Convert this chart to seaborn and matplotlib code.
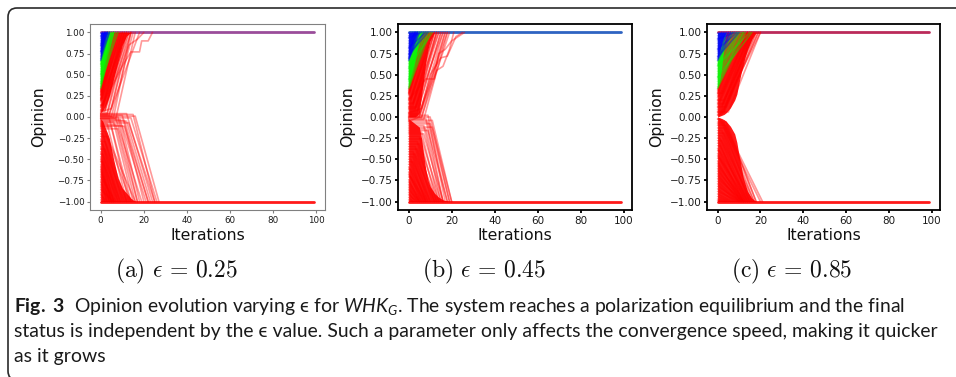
import matplotlib
matplotlib.use("Agg")
import pandas as pd
import matplotlib.pyplot as plt
import seaborn as sns
from matplotlib import font_manager
from matplotlib.patches import FancyBboxPatch

# ---- data ---------------------------------------------------------------
last_iteration = 99
opinion_ticks = [-1.0, -0.75, -0.5, -0.25, 0.0, 0.25, 0.5, 0.75, 1.0]
iteration_ticks = [0, 20, 40, 60, 80, 100]
panel_labels = ["(a)", "(b)", "(c)"]
epsilons = ["0.25", "0.45", "0.85"]

# (a) eps = 0.25 -- individual agents (start opinion, iteration it starts moving, iteration it settles)
a_blue_start = [0.99, 0.96, 0.93, 0.90, 0.87, 0.84, 0.81, 0.78, 0.75, 0.72, 0.69, 0.67, 0.95, 0.85, 0.77]
a_blue_arrive = [1, 1, 2, 2, 2, 3, 2, 3, 3, 4, 3, 4, 1, 2, 3]
a_green_start = [0.66, 0.63, 0.60, 0.57, 0.54, 0.51, 0.48, 0.45, 0.42, 0.39, 0.36, 0.34, 0.62, 0.50, 0.40]
a_green_arrive = [3, 3, 4, 4, 5, 4, 5, 6, 5, 6, 7, 6, 4, 6, 8]
a_up_start = [0.33, 0.31, 0.29, 0.27, 0.25, 0.23, 0.21, 0.19, 0.17, 0.15, 0.13, 0.11, 0.09, 0.07,
              0.05, 0.03, 0.02, 0.01, 0.00, -0.02, 0.30, 0.26, 0.20, 0.14, 0.08, 0.04, 0.22]
a_up_leave = [0, 0, 0, 0, 0, 0, 0, 0, 0, 1, 1, 1, 2, 2, 3, 3, 4, 5, 6, 7, 0, 0, 0, 1, 2, 4, 1]
a_up_arrive = [5, 6, 6, 7, 7, 8, 8, 9, 9, 10, 10, 11, 11, 12, 12, 13, 14, 15, 14, 16, 8, 10, 12, 13, 14, 18, 11]
a_down_start = [0.04, 0.02, 0.00, -0.01, -0.03, -0.04, -0.06, -0.07, -0.09, -0.10, -0.12, -0.14, 0.01, -0.02,
                -0.05, -0.08, 0.03, -0.015, -0.11, -0.17, -0.20, -0.23, -0.26, -0.29, -0.32, -0.35, -0.38,
                -0.41, -0.44, -0.47, -0.50, -0.53, -0.56, -0.59, -0.62, -0.65, -0.68, -0.71, -0.74, -0.77,
                -0.80, -0.83, -0.86, -0.89, -0.92, -0.95, -0.98]
a_down_leave = [12, 10, 8, 14, 9, 11, 6, 13, 7, 10, 5, 8, 16, 4, 12, 3, 15, 7, 11, 2, 1, 3, 0, 2, 1, 0,
                2, 0, 1, 0, 0, 1, 0, 0, 0, 0, 0, 0, 0, 0, 0, 0, 0, 0, 0, 0, 0]
a_down_arrive = [24, 20, 17, 26, 18, 22, 15, 25, 16, 21, 13, 17, 27, 14, 23, 12, 25, 19, 22, 14, 10, 16,
                 8, 12, 9, 7, 11, 6, 9, 6, 5, 8, 5, 4, 5, 6, 4, 7, 3, 5, 4, 3, 6, 2, 3, 2, 1]
a_extra = [[(0, 0.12), (6, 0.40), (10, 0.60), (14, 0.77), (18, 0.77), (19, 0.90), (22, 0.90), (24, 1.0)],
           [(0, 0.06), (5, 0.10), (9, 0.55), (13, 0.85), (17, 0.92), (20, 1.0)]]
# (a) edges of the saturated bundles
a_core_x = [0, 1, 2, 3, 4, 5, 6, 8, 10, 12, 14, 16]
a_blue_edge = [0.67, 0.80, 0.92, 0.98, 1.0, 1.0, 1.0, 1.0, 1.0, 1.0, 1.0, 1.0]
a_green_edge = [0.33, 0.45, 0.60, 0.75, 0.88, 0.95, 1.0, 1.0, 1.0, 1.0, 1.0, 1.0]
a_up_edge = [0.05, 0.08, 0.12, 0.18, 0.25, 0.35, 0.45, 0.65, 0.85, 0.96, 1.0, 1.0]
a_down_edge = [-0.02, -0.05, -0.12, -0.18, -0.25, -0.38, -0.50, -0.72, -0.84, -0.90, -0.96, -1.0]

# (b) eps = 0.45
b_blue_start = [0.99, 0.96, 0.93, 0.90, 0.87, 0.84, 0.81, 0.78, 0.75, 0.72, 0.69, 0.67, 0.94, 0.82, 0.74, 0.70]
b_blue_arrive = [1, 2, 2, 3, 3, 3, 4, 4, 3, 4, 5, 4, 6, 8, 9, 7]
b_green_start = [0.66, 0.63, 0.60, 0.57, 0.54, 0.51, 0.48, 0.45, 0.42, 0.39, 0.36, 0.34, 0.58, 0.44]
b_green_arrive = [4, 5, 5, 6, 6, 7, 7, 8, 8, 9, 9, 10, 11, 6]
b_up_start = [0.33, 0.31, 0.29, 0.27, 0.25, 0.23, 0.21, 0.19, 0.17, 0.15, 0.13, 0.11, 0.09, 0.07,
              0.05, 0.03, 0.01, -0.01, -0.03, 0.28, 0.22, 0.16, 0.10, 0.04, 0.00, 0.12]
b_up_leave = [0, 0, 0, 0, 0, 1, 1, 1, 2, 2, 2, 3, 3, 4, 4, 5, 5, 6, 7, 0, 1, 2, 3, 5, 6, 4]
b_up_arrive = [7, 8, 8, 9, 9, 10, 11, 11, 12, 12, 13, 13, 14, 15, 15, 16, 17, 17, 18, 10, 12, 14, 16, 18, 19, 13]
b_down_start = [0.02, 0.00, -0.02, -0.04, -0.06, -0.08, -0.10, -0.12, -0.14, -0.16, -0.18, -0.20, -0.23,
                -0.26, -0.29, -0.32, -0.35, -0.38, -0.41, -0.44, -0.47, -0.50, -0.53, -0.56, -0.59, -0.62,
                -0.65, -0.68, -0.71, -0.74, -0.77, -0.80, -0.83, -0.86, -0.89, -0.92, -0.95, -0.98]
b_down_leave = [9, 10, 8, 11, 9, 10, 7, 11, 8, 9, 6, 7, 5, 6, 4, 5, 3, 4, 2, 3, 2, 1, 2, 1, 0, 1, 0, 0,
                1, 0, 0, 0, 0, 0, 0, 0, 0, 0]
b_down_arrive = [17, 19, 16, 20, 18, 19, 15, 20, 16, 18, 14, 16, 13, 15, 12, 14, 11, 13, 10, 12, 9, 8, 10,
                 8, 7, 9, 6, 7, 8, 5, 6, 5, 4, 5, 3, 4, 2, 2]
b_extra = [[(0, 0.20), (8, 0.45), (12, 0.45), (14, 0.75), (17, 0.80), (20, 0.90), (23, 0.95), (26, 1.0)],
           [(0, 0.05), (6, 0.10), (10, 0.50), (15, 0.70), (18, 0.72), (22, 0.95), (25, 1.0)],
           [(0, -0.05), (5, 0.0), (9, 0.30), (13, 0.55), (16, 0.60), (19, 0.80), (21, 1.0)]]
b_core_x = [0, 1, 2, 3, 4, 5, 6, 7, 8, 9, 10, 12, 14, 16, 19]
b_blue_edge = [0.67, 0.73, 0.80, 0.87, 0.94, 1.0, 1.0, 1.0, 1.0, 1.0, 1.0, 1.0, 1.0, 1.0, 1.0]
b_green_edge = [0.33, 0.38, 0.50, 0.65, 0.80, 0.92, 0.97, 1.0, 1.0, 1.0, 1.0, 1.0, 1.0, 1.0, 1.0]
b_up_edge = [0.0, 0.0, 0.0, 0.0, 0.02, 0.05, 0.25, 0.45, 0.65, 0.80, 0.90, 1.0, 1.0, 1.0, 1.0]
b_down_edge = [-0.02, -0.04, -0.06, -0.08, -0.10, -0.12, -0.25, -0.45, -0.62, -0.75, -0.82, -0.90, -0.95,
               -0.98, -1.0]

# (c) eps = 0.85
c_blue_start = [0.99, 0.96, 0.93, 0.90, 0.87, 0.84, 0.81, 0.78, 0.75, 0.72, 0.69, 0.67, 0.92, 0.80, 0.71]
c_blue_arrive = [1, 2, 2, 3, 3, 4, 4, 5, 5, 6, 6, 7, 8, 9, 10]
c_green_start = [0.66, 0.63, 0.60, 0.57, 0.54, 0.51, 0.48, 0.45, 0.42, 0.39, 0.36, 0.34, 0.61, 0.47]
c_green_arrive = [6, 7, 7, 8, 9, 9, 10, 10, 11, 12, 12, 13, 15, 16]
c_up_start = [0.33, 0.31, 0.29, 0.27, 0.25, 0.23, 0.21, 0.19, 0.17, 0.15, 0.13, 0.11, 0.09, 0.07,
              0.05, 0.03, 0.02, 0.28, 0.20, 0.12, 0.06, 0.16]
c_up_leave = [0, 0, 0, 0, 1, 0, 1, 1, 1, 2, 2, 2, 3, 3, 3, 2, 1, 2, 3, 4, 5, 3]
c_up_arrive = [12, 13, 12, 14, 14, 15, 14, 15, 16, 16, 17, 15, 16, 17, 18, 19, 20, 16, 18, 19, 20, 17]
c_down_start = [-0.02, -0.03, -0.06, -0.08, -0.10, -0.13, -0.16, -0.19, -0.22, -0.25, -0.28, -0.31, -0.34,
                -0.37, -0.40, -0.43, -0.46, -0.49, -0.52, -0.55, -0.58, -0.61, -0.64, -0.67, -0.70, -0.73,
                -0.76, -0.79, -0.82, -0.85, -0.88, -0.91, -0.94, -0.97, -0.99]
c_down_leave = [1, 2, 4, 3, 4, 3, 2, 3, 2, 1, 2, 1, 1, 0, 1, 0, 0, 1, 0, 0, 0, 0, 0, 0, 0, 0, 0, 0, 0,
                0, 0, 0, 0, 0, 0]
c_down_arrive = [20, 21, 18, 17, 18, 16, 15, 17, 15, 14, 16, 13, 14, 12, 15, 13, 12, 14, 11, 12, 13, 11,
                 12, 10, 11, 12, 10, 9, 11, 8, 10, 7, 6, 5, 4]
c_extra = []
c_core_x = [0, 1, 2, 3, 4, 6, 8, 9, 10, 11, 12, 13, 14, 16, 18]
c_blue_edge = [0.67, 0.78, 0.88, 0.95, 1.0, 1.0, 1.0, 1.0, 1.0, 1.0, 1.0, 1.0, 1.0, 1.0, 1.0]
c_green_edge = [0.33, 0.42, 0.60, 0.85, 1.0, 1.0, 1.0, 1.0, 1.0, 1.0, 1.0, 1.0, 1.0, 1.0, 1.0]
c_up_edge = [0.0, 0.01, 0.02, 0.03, 0.05, 0.11, 0.20, 0.27, 0.40, 0.52, 0.62, 0.72, 0.80, 0.92, 1.0]
c_down_edge = [0.0, -0.01, -0.02, -0.03, -0.05, -0.11, -0.20, -0.30, -0.45, -0.58, -0.72, -0.80, -0.88,
               -0.96, -1.0]

# ---- styling --------------------------------------------------------------
palette = {"low": "#ff0000", "mid": "#00ff00", "high": "#0000ff"}
top_colors = ["#9a4d9a", "#2e63c2", "#bb2a5a"]
spine_colors = ["#808080", "black", "black"]
spine_widths = [0.8, 1.3, 1.3]
tick_sizes = [6.3, 7.5, 7.5]
axes_rects = [[90 / 956, 167 / 377, 235 / 956, 186 / 377],
              [398 / 956, 167 / 377, 234 / 956, 186 / 377],
              [707 / 956, 167 / 377, 233 / 956, 186 / 377]]
sub_x = [176 / 956, 484 / 956, 792 / 956]

sns.set_theme(style="ticks")
avail = {f.name for f in font_manager.fontManager.ttflist}
cap_font = "Lato" if "Lato" in avail else "DejaVu Sans"
plt.rcParams["font.family"] = ["DejaVu Sans"]
plt.rcParams["mathtext.rm"] = cap_font
plt.rcParams["mathtext.it"] = cap_font + ":italic"
plt.rcParams["mathtext.bf"] = cap_font + ":bold"


def build(blue_s, blue_a, green_s, green_a, up_s, up_l, up_a, dn_s, dn_l, dn_a, extra):
    rows = []

    def add(tag, group, starts, arrives, target, leaves=None):
        for i, s in enumerate(starts):
            hold = 0 if leaves is None else leaves[i]
            for it, op in [(0, s), (hold, s), (arrives[i], target)]:
                rows.append({"agent": f"{tag}{i}", "group": group, "iteration": it, "opinion": op})

    add("dn", "low", dn_s, dn_a, -1.0, dn_l)
    add("up", "low", up_s, up_a, 1.0, up_l)
    for k, path in enumerate(extra):
        for it, op in path:
            rows.append({"agent": f"ex{k}", "group": "low", "iteration": it, "opinion": op})
    add("g", "mid", green_s, green_a, 1.0)
    add("b", "high", blue_s, blue_a, 1.0)
    return pd.DataFrame(rows)


panels = [
    build(a_blue_start, a_blue_arrive, a_green_start, a_green_arrive, a_up_start, a_up_leave, a_up_arrive,
          a_down_start, a_down_leave, a_down_arrive, a_extra),
    build(b_blue_start, b_blue_arrive, b_green_start, b_green_arrive, b_up_start, b_up_leave, b_up_arrive,
          b_down_start, b_down_leave, b_down_arrive, b_extra),
    build(c_blue_start, c_blue_arrive, c_green_start, c_green_arrive, c_up_start, c_up_leave, c_up_arrive,
          c_down_start, c_down_leave, c_down_arrive, c_extra),
]
cores = [
    (a_core_x, a_blue_edge, a_green_edge, a_up_edge, a_down_edge),
    (b_core_x, b_blue_edge, b_green_edge, b_up_edge, b_down_edge),
    (c_core_x, c_blue_edge, c_green_edge, c_up_edge, c_down_edge),
]

fig = plt.figure(figsize=(9.56, 3.77), dpi=100)

for k, df in enumerate(panels):
    ax = fig.add_axes(axes_rects[k])
    # consensus levels underneath the individual agents
    ax.plot([0, last_iteration], [1.0, 1.0], color=top_colors[k], lw=2.0, zorder=1)
    ax.plot([0, last_iteration], [-1.0, -1.0], color="#ff1a1a", lw=2.0, zorder=1)
    # saturated bundles where the trajectories overlap completely
    cx, e_blue, e_green, e_up, e_down = cores[k]
    ax.fill_between(cx, -1.0, e_down, color="#ff0000", alpha=0.9, lw=0, zorder=1.5)
    ax.fill_between(cx, e_up, 1.0, color="#ff0000", alpha=0.9, lw=0, zorder=1.5)
    ax.fill_between(cx, e_green, 1.0, color="#22ee22", alpha=0.95, lw=0, zorder=1.6)
    ax.fill_between(cx, e_blue, 1.0, color="#1010ff", alpha=0.95, lw=0, zorder=1.7)
    sns.lineplot(data=df, x="iteration", y="opinion", hue="group", units="agent", estimator=None,
                 hue_order=["low", "mid", "high"], palette=palette, sort=False, lw=1.2, alpha=0.4,
                 legend=False, ax=ax, zorder=2)
    ax.set_xlim(-0.05 * last_iteration, 1.05 * last_iteration)
    ax.set_ylim(-1.1, 1.1)
    ax.set_xticks(iteration_ticks)
    ax.set_yticks(opinion_ticks)
    ax.set_yticklabels([f"{v:.2f}".replace("-", "\u2212") for v in opinion_ticks])
    ax.tick_params(length=2.5, pad=1.5, labelsize=tick_sizes[k], color=spine_colors[k],
                   width=spine_widths[k], labelcolor="#1a1a1a")
    for sp in ax.spines.values():
        sp.set_visible(True)
        sp.set_color(spine_colors[k])
        sp.set_linewidth(spine_widths[k])
        sp.set_zorder(3)
    ax.set_xlabel("Iterations", fontsize=11.3, color="#111111")
    ax.set_ylabel("Opinion", fontsize=11.3, color="#111111")
    ax.xaxis.set_label_coords(0.5, -0.095)
    ax.yaxis.set_label_coords(-0.185, 0.5)
    fig.text(sub_x[k], 1 - 271 / 377,
             r"$\mathrm{" + panel_labels[k] + r"}\ \epsilon\,=\," + epsilons[k] + "$",
             ha="center", va="center", fontsize=17, math_fontfamily="cm", color="#111111")

# caption
cap_lines = [
    r"$\mathbf{Fig.\ 3}$  Opinion evolution varying " + "\u03f5" + r" for $\mathit{WHK}_G$. "
    "The system reaches a polarization equilibrium and the final",
    "status is independent by the \u03f5 value. Such a parameter only affects the convergence speed, "
    "making it quicker",
    "as it grows",
]
cap_base = [312, 337, 362]
caps = []
for line, yb in zip(cap_lines, cap_base):
    caps.append(fig.text(13.5 / 956, 1 - yb / 377, line, ha="left", va="baseline", fontsize=12.5,
                         family=[cap_font, "DejaVu Sans"], math_fontfamily="custom", color="#1a1a1a"))
fig.canvas.draw()
w = caps[1].get_window_extent(fig.canvas.get_renderer()).width
for t in caps:
    t.set_fontsize(12.5 * 928 / w)

fig.add_artist(FancyBboxPatch((8, -3), 1000, 372, boxstyle="round,pad=0,rounding_size=9",
                              transform=None, fill=False, edgecolor="#2a2a2a", lw=1.2))

fig.savefig("out.png", dpi=100)
